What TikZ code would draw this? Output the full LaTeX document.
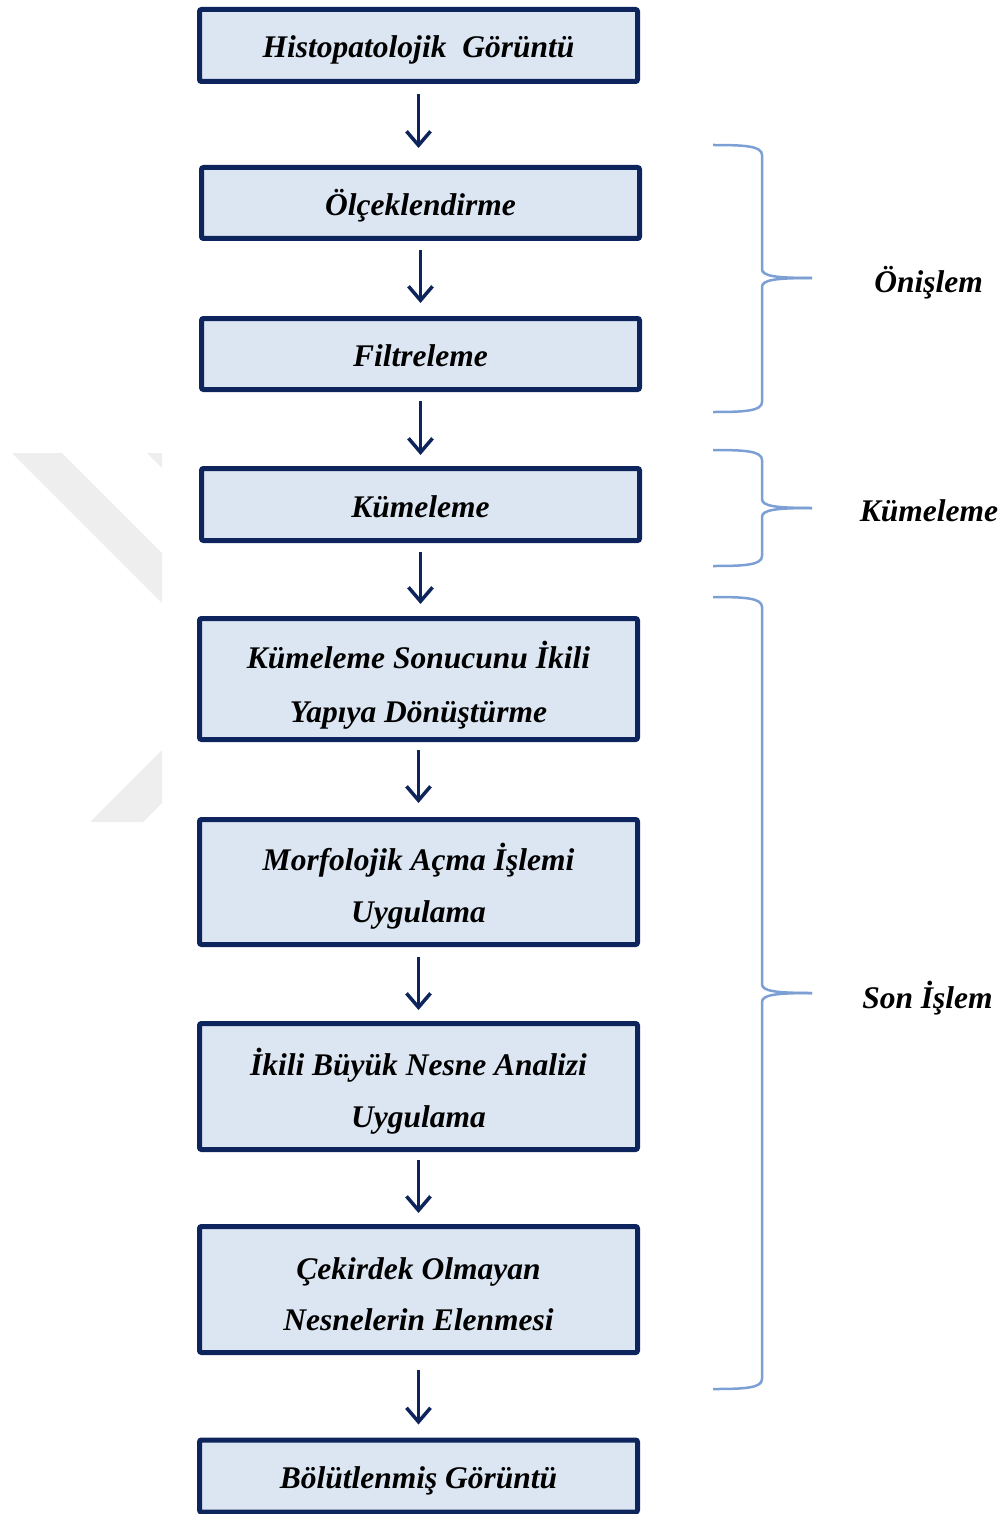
\documentclass[tikz,border=0pt]{standalone}
\usepackage{fontspec}
\setmainfont{Liberation Serif}
\usetikzlibrary{arrows.meta}
\definecolor{navy}{RGB}{14,36,92}
\definecolor{boxfill}{RGB}{220,230,242}
\definecolor{bracecol}{RGB}{125,160,212}
\definecolor{wmgray}{RGB}{238,238,238}
\newcommand\mybrace[3]{%
  \draw[brace] (713,#1) .. controls (745,#1) and (762,#1+1) .. (762,#1+10) -- (762,#2-9) .. controls (762,#2-2) and (775,#2) .. (812,#2);
  \draw[brace] (812,#2) .. controls (775,#2) and (762,#2+2) .. (762,#2+9) -- (762,#3-10) .. controls (762,#3-1) and (745,#3) .. (713,#3);}
\begin{document}
\begin{tikzpicture}[x=1pt,y=-1pt,
  box/.style={draw=navy, line width=5pt, fill=boxfill, rounded corners=2pt, minimum width=438pt, inner sep=0pt},
  txt/.style={anchor=base, font=\fontsize{31.5}{36}\selectfont\bfseries\itshape, inner sep=0pt, text=black},
  arr/.style={draw=navy, line width=3.5pt, -{Straight Barb[length=14pt,width=24pt]}},
  brace/.style={draw=bracecol, line width=2.5pt}]
\useasboundingbox (0,0) rectangle (1005,1514);
% watermark
\fill[wmgray] (12,453) -- (62,453) -- (162,553) -- (162,603) -- cycle;
\fill[wmgray] (147,453) -- (162,453) -- (162,468) -- cycle;
\fill[wmgray] (90,822) -- (162,750) -- (162,803) -- (143,822) -- cycle;
% boxes
\node[box, minimum height=72pt] (b1) at (418.5,45.5) {};
\node[box, minimum height=71pt] (b2) at (420.5,203) {};
\node[box, minimum height=71pt] (b3) at (420.5,354) {};
\node[box, minimum height=72pt] (b4) at (420.5,504.5) {};
\node[box, minimum height=121pt] (b5) at (418.5,679) {};
\node[box, minimum height=125pt] (b6) at (418.5,882) {};
\node[box, minimum height=126pt] (b7) at (418.5,1086.5) {};
\node[box, minimum height=126pt] (b8) at (418.5,1289.5) {};
\node[box, minimum height=72pt] (b9) at (418.5,1476) {};
% texts
\node[txt] (t1) at (418.5,58) {Histopatolojik\ \ Görüntü};
\node[txt] (t2) at (420.5,215.5) {Ölçeklendirme};
\node[txt] (t3) at (420.5,366.5) {Filtreleme};
\node[txt] (t4) at (420.5,517) {Kümeleme};
\node[txt] (t5a) at (418.5,668) {Kümeleme Sonucunu İkili};
\node[txt] (t5b) at (418.5,722) {Yapıya Dönüştürme};
\node[txt] (t6a) at (418.5,870) {Morfolojik Açma İşlemi};
\node[txt] (t6b) at (418.5,922) {Uygulama};
\node[txt] (t7a) at (418.5,1075) {İkili Büyük Nesne Analizi};
\node[txt] (t7b) at (418.5,1127) {Uygulama};
\node[txt] (t8a) at (418.5,1279) {Çekirdek Olmayan};
\node[txt] (t8b) at (418.5,1330) {Nesnelerin Elenmesi};
\node[txt] (t9) at (418.5,1488.5) {Bölütlenmiş Görüntü};
% arrows
\draw[arr, shorten <=10pt, shorten >=17pt] (b1.south) -- (b1.south |- b2.north);
\draw[arr, shorten <=9pt, shorten >=13pt] (b2.south) -- (b2.south |- b3.north);
\draw[arr, shorten <=9pt, shorten >=11pt] (b3.south) -- (b3.south |- b4.north);
\draw[arr, shorten <=9pt, shorten >=12pt] (b4.south) -- (b4.south |- b5.north);
\draw[arr, shorten <=8pt, shorten >=14pt] (b5.south) -- (b5.south |- b6.north);
\draw[arr, shorten <=10pt, shorten >=11pt] (b6.south) -- (b6.south |- b7.north);
\draw[arr, shorten <=8pt, shorten >=11pt] (b7.south) -- (b7.south |- b8.north);
\draw[arr, shorten <=15pt, shorten >=13pt] (b8.south) -- (b8.south |- b9.north);
% braces
\mybrace{145}{278}{412}
\mybrace{450}{508}{566}
\mybrace{597}{993}{1389}
% brace labels
\node[txt] (l1) at (928.5,292) {Önişlem};
\node[txt] (l2) at (929,521) {Kümeleme};
\node[txt] (l3) at (927.5,1008) {Son İşlem};
\end{tikzpicture}
\end{document}
